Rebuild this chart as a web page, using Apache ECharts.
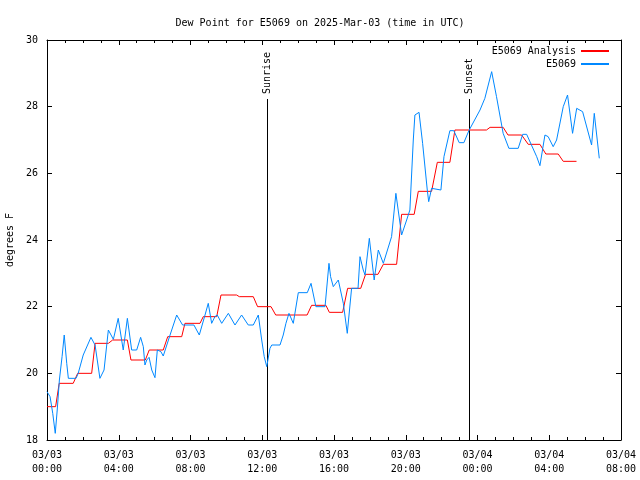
<!DOCTYPE html>
<html>
<head>
<meta charset="utf-8">
<script src="https://cdn.jsdelivr.net/npm/echarts@6/dist/echarts.min.js"></script>
<style>html,body{margin:0;padding:0;background:#fff}#c{width:640px;height:480px}</style>
</head>
<body>
<div id="c"></div>
<script>
// ---- data (times in hours since 2025-03-03 00:00 UTC) ----
const analysisHours = [0, 0.48, 0.68, 1.46, 1.71, 2.49, 2.68, 3.42, 3.66, 4.48, 4.68, 5.48, 5.70, 6.48, 6.73, 7.51, 7.69, 8.53, 8.71, 9.46, 9.70, 10.57, 10.72, 11.50, 11.74, 12.49, 12.75, 14.50, 14.75, 15.55, 15.74, 16.48, 16.76, 17.49, 17.76, 18.45, 18.75, 19.49, 19.77, 20.47, 20.70, 21.44, 21.76, 22.46, 22.74, 24.50, 24.70, 25.43, 25.70, 26.46, 26.83, 27.48, 27.81, 28.50, 28.78, 29.52];
const analysisValues = [19.0, 19.0, 19.7, 19.7, 20.0, 20.0, 20.9, 20.9, 21.0, 21.0, 20.4, 20.4, 20.7, 20.7, 21.1, 21.1, 21.5, 21.5, 21.7, 21.7, 22.35, 22.35, 22.3, 22.3, 22.0, 22.0, 21.75, 21.75, 22.04, 22.04, 21.83, 21.83, 22.55, 22.55, 22.97, 22.97, 23.27, 23.27, 24.77, 24.77, 25.46, 25.46, 26.33, 26.33, 27.3, 27.3, 27.38, 27.38, 27.15, 27.15, 26.87, 26.87, 26.58, 26.58, 26.36, 26.36];

const obsHours = [0, 0.17, 0.32, 0.46, 0.57, 0.69, 0.84, 0.96, 1.10, 1.19, 1.62, 1.74, 2.02, 2.45, 2.68, 2.95, 3.18, 3.42, 3.51, 3.70, 3.97, 4.25, 4.48, 4.72, 5.00, 5.22, 5.37, 5.46, 5.56, 5.69, 5.84, 6.02, 6.15, 6.35, 6.48, 6.86, 7.23, 7.56, 8.19, 8.49, 8.81, 8.99, 9.18, 9.36, 9.49, 9.74, 10.11, 10.48, 10.85, 11.22, 11.50, 11.78, 11.97, 12.11, 12.25, 12.43, 12.53, 12.99, 13.17, 13.32, 13.49, 13.73, 14.01, 14.51, 14.72, 14.99, 15.50, 15.72, 15.81, 15.96, 16.24, 16.52, 16.74, 16.98, 17.34, 17.45, 17.63, 17.73, 17.97, 18.24, 18.47, 18.75, 19.21, 19.45, 19.77, 20.05, 20.23, 20.42, 20.51, 20.74, 20.94, 21.20, 21.28, 21.44, 21.96, 22.13, 22.46, 22.68, 22.98, 23.24, 23.52, 24.14, 24.41, 24.79, 25.06, 25.43, 25.75, 26.27, 26.52, 26.74, 27.30, 27.48, 27.76, 27.94, 28.22, 28.41, 28.78, 29.02, 29.30, 29.53, 29.86, 30.36, 30.51, 30.79];
const obsValues = [19.45, 19.3, 18.8, 18.2, 18.9, 19.8, 20.5, 21.15, 20.3, 19.85, 19.85, 20.0, 20.55, 21.08, 20.85, 19.85, 20.1, 21.3, 21.35, 21.02, 21.65, 20.7, 21.65, 20.7, 20.7, 21.08, 20.8, 20.25, 20.4, 20.48, 20.1, 19.87, 20.7, 20.65, 20.52, 21.15, 21.75, 21.45, 21.45, 21.15, 21.75, 22.1, 21.5, 21.7, 21.75, 21.5, 21.8, 21.45, 21.75, 21.45, 21.45, 21.75, 21.0, 20.5, 20.2, 20.75, 20.85, 20.85, 21.15, 21.5, 21.8, 21.5, 22.42, 22.42, 22.7, 22.0, 22.0, 23.3, 22.9, 22.6, 22.8, 22.1, 21.2, 22.55, 22.55, 23.5, 23.1, 22.95, 24.05, 22.8, 23.7, 23.3, 24.1, 25.4, 24.15, 24.6, 24.9, 27.0, 27.75, 27.83, 26.9, 25.5, 25.15, 25.55, 25.5, 26.5, 27.28, 27.28, 26.92, 26.92, 27.28, 27.9, 28.25, 29.05, 28.3, 27.2, 26.75, 26.75, 27.17, 27.17, 26.5, 26.23, 27.15, 27.1, 26.8, 27.0, 28.0, 28.35, 27.2, 27.95, 27.85, 26.85, 27.8, 26.45];

const sunEventHours = [12.27, 23.53];
const sunEventNames = ['Sunrise', 'Sunset'];

const seriesNames = ['E5069 Analysis', 'E5069'];
const titleText = 'Dew Point for E5069 on 2025-Mar-03 (time in UTC)';
const yAxisTitle = 'degrees F';
const xMin = 0, xMax = 32, xStep = 4;
const yMin = 18, yMax = 30, yStep = 2;

// ---- chart ----
const FONT = 'DejaVu Sans Mono';
const pad = n => (n < 10 ? '0' : '') + n;
function xLabel(h) {
  const day = 3 + Math.floor(h / 24);
  const hh = Math.round(h) % 24;
  return '03/' + pad(day) + '\n' + pad(hh) + ':00';
}
const zip = (a, b) => a.map((v, i) => [v, b[i]]);

const chart = echarts.init(document.getElementById('c'), null, {renderer: 'canvas'});
const axisLine = {show: true, onZero: false, lineStyle: {color: '#000', width: 1}};
const baseX = {
  type: 'value', min: xMin, max: xMax, interval: xStep,
  axisLine: axisLine,
  axisTick: {show: true, inside: true, length: 5, lineStyle: {color: '#000'}},
  minorTick: {show: true, splitNumber: 4, length: 3, lineStyle: {color: '#000'}},
  splitLine: {show: false}
};
const baseY = {
  type: 'value', min: yMin, max: yMax, interval: yStep,
  axisLine: axisLine,
  axisTick: {show: true, inside: true, length: 5, lineStyle: {color: '#000'}},
  splitLine: {show: false}
};

chart.setOption({
  animation: false,
  backgroundColor: '#fff',
  title: {
    text: titleText, left: 'center', top: 13,
    textStyle: {fontFamily: FONT, fontSize: 10, fontWeight: 'normal', color: '#000'}
  },
  legend: [0, 1].map(i => ({
    data: [seriesNames[i]], orient: 'vertical', right: 30, top: 46 + i * 13,
    align: 'right', itemWidth: 28, itemHeight: 8, itemGap: 0, padding: 0,
    itemStyle: {opacity: 0},
    textStyle: {fontFamily: FONT, fontSize: 10, color: '#000'}
  })),
  grid: {left: 47, right: 19, top: 40, bottom: 40, containLabel: false, outerBoundsMode: 'none'},
  xAxis: [
    Object.assign({}, baseX, {
      position: 'bottom',
      axisLabel: {show: true, margin: 8, fontFamily: FONT, fontSize: 10, color: '#000', lineHeight: 14, formatter: xLabel}
    }),
    Object.assign({}, baseX, {position: 'top', axisLabel: {show: false}})
  ],
  yAxis: [
    Object.assign({}, baseY, {
      position: 'left',
      name: yAxisTitle, nameLocation: 'middle', nameGap: 32,
      nameTextStyle: {fontFamily: FONT, fontSize: 10, color: '#000'},
      axisLabel: {show: true, margin: 9, fontFamily: FONT, fontSize: 10, color: '#000'}
    }),
    Object.assign({}, baseY, {position: 'right', axisLabel: {show: false}})
  ],
  series: [
    {
      name: seriesNames[0], type: 'line', symbol: 'none', z: 3,
      data: zip(analysisHours, analysisValues),
      lineStyle: {color: '#ff0000', width: 1}, itemStyle: {color: '#ff0000'}
    },
    {
      name: seriesNames[1], type: 'line', symbol: 'none', z: 4,
      data: zip(obsHours, obsValues),
      lineStyle: {color: '#0088ff', width: 1}, itemStyle: {color: '#0088ff'}
    },
    {
      name: 'sun', type: 'custom', z: 2, silent: true,
      data: sunEventHours.map(h => [h]),
      renderItem: function (params, api) {
        const p = api.coord([api.value(0), yMin]);
        const x = Math.round(p[0]) + 0.5;
        const top = params.coordSys.y + 59;
        return {
          type: 'group',
          children: [
            {type: 'line', shape: {x1: x, y1: p[1], x2: x, y2: top}, style: {stroke: '#000', lineWidth: 1}},
            {type: 'text', x: x, y: top - 5, rotation: Math.PI / 2,
             style: {text: sunEventNames[params.dataIndex], font: '10px ' + FONT, fill: '#000', align: 'left', verticalAlign: 'middle'}}
          ]
        };
      }
    }
  ]
});
</script>
</body>
</html>
